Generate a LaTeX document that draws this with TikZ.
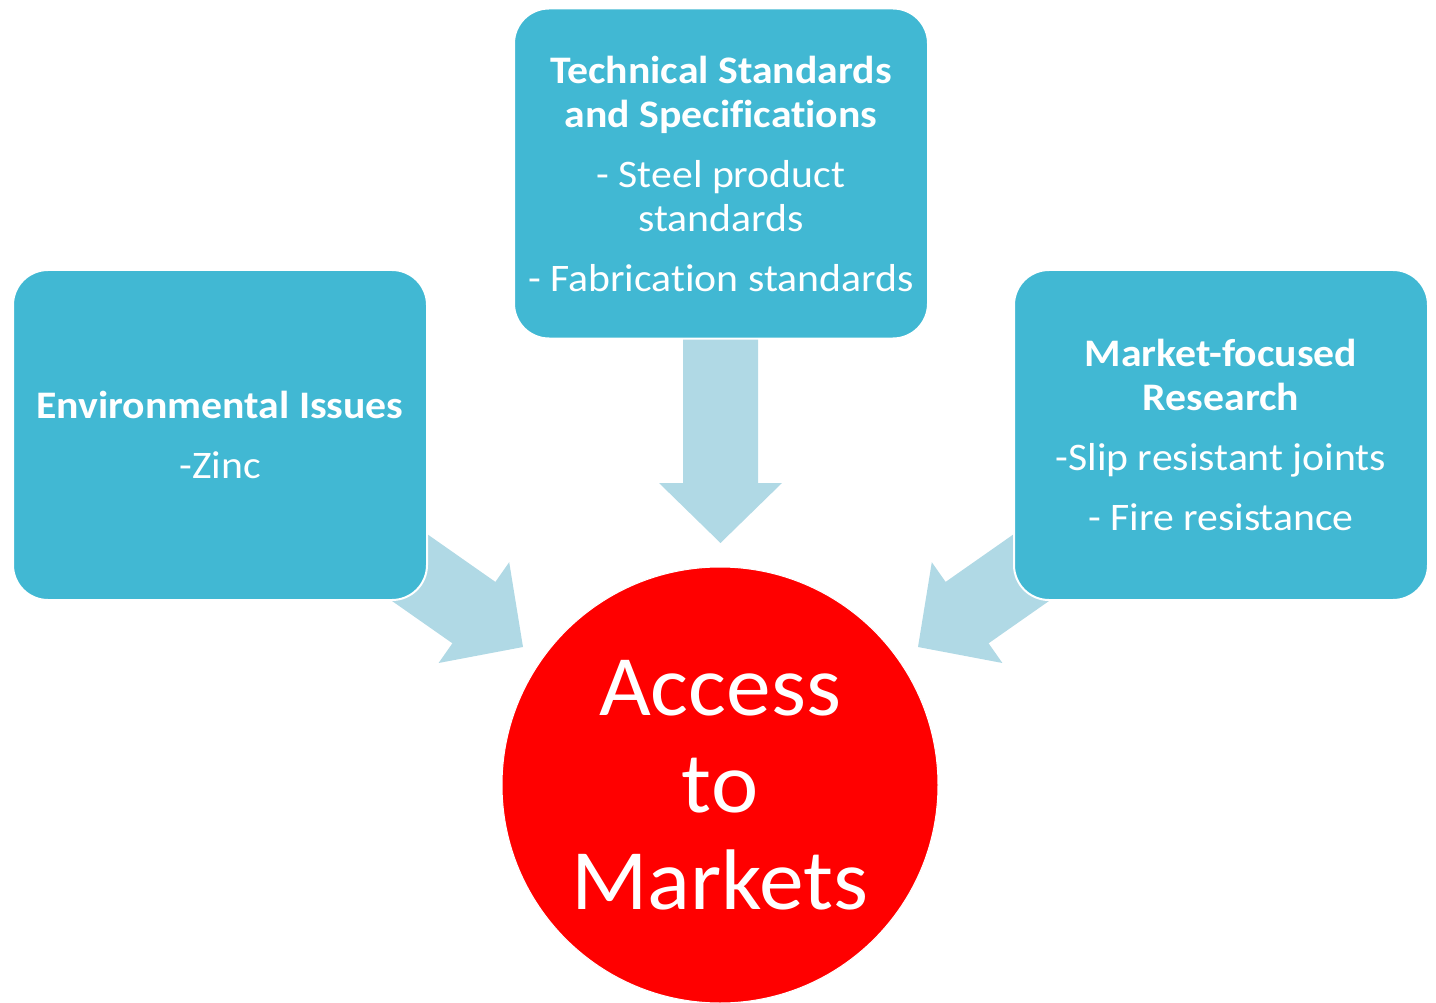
\documentclass[tikz,border=0pt]{standalone}
\usepackage{fontspec}
\setmainfont{Carlito}[Ligatures=NoCommon]
\newfontfamily\boxfont{Carlito}[Ligatures=NoCommon,FakeStretch=1.07]
\newfontfamily\hubfont{Carlito}[Ligatures=NoCommon,FakeStretch=1.04]
\definecolor{boxblue}{HTML}{41B8D3}
\definecolor{arrowblue}{HTML}{B0D9E5}
\definecolor{hubred}{HTML}{FF0000}
\begin{document}
\begin{tikzpicture}[x=1pt,y=-1pt,
  infobox/.style={draw=white, line width=2pt, fill=boxblue, rounded corners=35pt,
    minimum width=414pt, minimum height=330pt, align=center, text=white,
    font=\boxfont\fontsize{39}{44}\selectfont, inner sep=0pt},
  blockarrow/.style={fill=arrowblue, draw=none},
  hub/.style={circle, fill=hubred, draw=white, line width=1pt, minimum size=436pt,
    inner sep=0pt, text=white, align=center, font=\hubfont\fontsize{86}{97}\selectfont}]
\useasboundingbox (0,0) rectangle (1436,1003);
% block arrows (drawn first, boxes lie on top)
\fill[blockarrow] (683,338) -- (758,338) -- (758,483) -- (782,483) -- (720.5,543) -- (659,483) -- (683,483) -- cycle;
\fill[blockarrow] (378.2,499.8) -- (495.4,581.9) -- (509.2,562.2) -- (523,647) -- (438.6,663.0) -- (452.4,643.3) -- (335.2,561.2) -- cycle;
\fill[blockarrow] (1062.8,499.8) -- (945.6,581.9) -- (931.8,562.2) -- (918,647) -- (1002.4,663.0) -- (988.6,643.3) -- (1105.8,561.2) -- cycle;
% boxes
\node[infobox] (env) at (220,435) {\textbf{Environmental Issues}\\[16pt]-Zinc};
\node[infobox] (tech) at (721,173.5) {\textbf{Technical Standards}\\\textbf{and Specifications}\\[16pt]- Steel product\\standards\\[16pt]- Fabrication standards};
\node[infobox] (mkt) at (1221,435) {\textbf{Market-focused}\\\textbf{Research}\\[16pt]-Slip resistant joints\\[16pt]- Fire resistance};
% hub
\node[hub] (acc) at (720,785) {Access\\to\\Markets};
\end{tikzpicture}
\end{document}
